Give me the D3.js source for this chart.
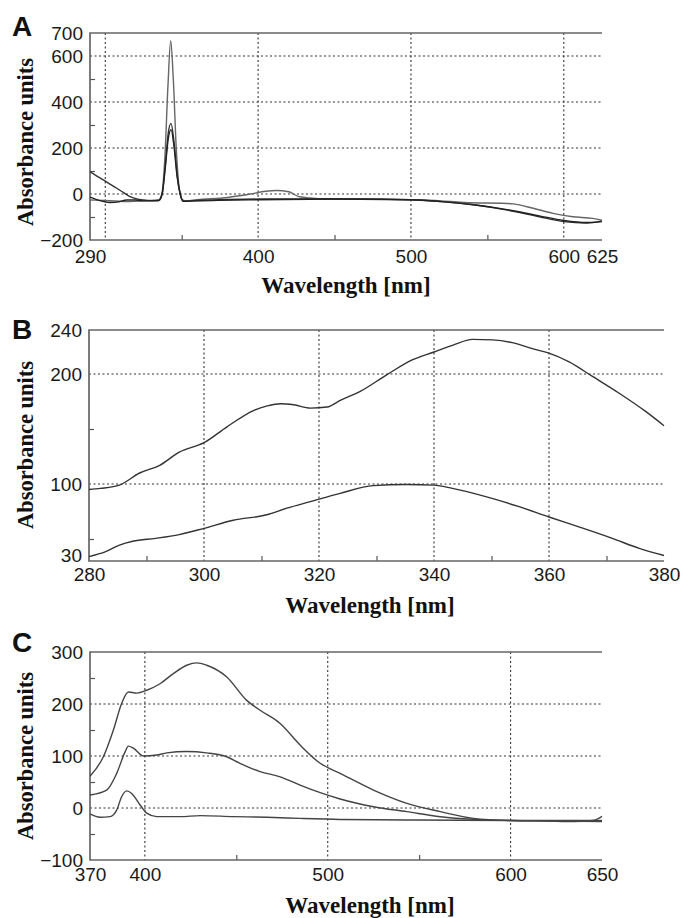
<!DOCTYPE html>
<html><head><meta charset="utf-8">
<script src="https://cdn.jsdelivr.net/npm/d3@7"></script>
<style>
html,body{margin:0;padding:0;background:#fff;}
svg{display:block;}
</style></head>
<body>
<script>
// ---------- DATA ----------
// Panel A
const aXTickLabels = [290, 400, 500, 600, 625];
const aXGrid = [300, 400, 500, 600];
const aXMinor = [350, 450, 550];
const aYTickLabels = [-200, 0, 200, 400, 600, 700];
const aYGrid = [0, 200, 400, 600];
const aYMinor = [-100, 100, 300, 500];
const aS1x = [290,300,316,325,330,335,337,339,341,342.8,344.5,346.5,348.5,350.5,353,360,380,395,405,412,420,427,440,460,480,500,520,540,560,567,580,593,606,619,625];
const aS1y = [-26,-28,-33,-30,-28,-26,0,160,470,666,500,190,20,-25,-30,-25,-15,0,12,15,10,-12,-20,-21,-22,-25,-30,-38,-40,-43,-62,-84,-99,-106,-114];
const aS2x = [290,294,298.7,303,307.5,312,316.2,320,325,330,335,337.2,339.2,341.2,343,345,347,349,351,360,380,400,420,440,460,480,500,520,541,563,584,600,615,625];
const aS2y = [97,80,61,43,25,6,-11,-20,-26,-29,-28,0,120,265,307,225,85,0,-30,-28,-24,-22,-22,-22,-22,-23,-25,-33,-47,-70,-99,-120,-126,-118];
const aS3x = [290,296,303,309,314,320,325,330,335,337.2,339.2,341.2,343,345,347,349,351,360,400,450,500,520,541,563,584,600,615,625];
const aS3y = [-14,-28,-37,-34,-26,-26,-30,-30,-28,0,110,240,280,205,75,0,-32,-30,-25,-22,-25,-33,-47,-68,-95,-115,-124,-120];

// Panel B
const bXTickLabels = [280, 300, 320, 340, 360, 380];
const bXGrid = [300, 320, 340, 360];
const bXMinor = [290, 310, 330, 350, 370];
const bYTickLabels = [30, 100, 200, 240];
const bYGrid = [100, 200];
const bYMinor = [50, 150];
const bS1x = [280,282,285.3,288.8,292.3,295.7,300,304,308.7,311,313.3,315.6,318.5,321.4,323.7,327.1,331.7,336.3,340,343.2,346.7,350.2,353.6,357.1,360,363.5,367.5,372.2,376.8,380];
const bS1y = [95,96,99,110,117,129,137.6,152,167,171,173,172,169,170,176,184,199,213,220,226,231.5,231,228.5,223,219,211,198,182.5,166,153];
const bS2x = [280,282.9,285.3,287.6,291.6,295.7,300,305.1,310.9,314.4,318.5,323.7,329.4,335.2,340,343.2,349,354.8,360,365.2,371,375.7,380];
const bS2y = [34,38.5,44.5,48,50.6,54,59.7,67,72,78,84,91.5,98.5,99.6,99,96,88.5,79.4,70,61,50.6,41.5,35];

// Panel C
const cXTickLabels = [370, 400, 500, 600, 650];
const cXGrid = [400, 500, 600];
const cXMinor = [450, 550];
const cYTickLabels = [-100, 0, 100, 200, 300];
const cYGrid = [0, 100, 200];
const cYMinor = [-50, 50, 150, 250];
const cS1x = [370,377.3,382.8,387.3,391,395.5,401,408.3,415.6,422.9,428.4,433.8,444.8,455.7,463,474,484.9,495.9,506.8,525,543.3,561.6,579.8,600,620,634.4,645,650];
const cS1y = [61,98.5,150,201,223,221,226.5,239,258.5,274.5,279,274.5,252,207,188,162.5,121,86,66.6,34.5,9,-7,-20,-24,-25,-26,-24,-16];
const cS2x = [370,379.1,384.6,389.2,391,393.7,399.2,406.5,412,422.9,433.8,444.8,452,463,474,484.9,495.9,506.8,525,543.3,561.6,579.8,600,625,650];
const cS2y = [25,34.5,66.6,108,119,115,100,102,106,108.6,106,98.5,86,70,60,44,29.4,17.3,2.5,-7,-16.7,-21.8,-24,-25,-26];
const cS3x = [370,375.5,380.9,384.6,387.3,390.1,392.8,397.4,401,406.5,419.3,430.3,448.5,466.8,485,506.8,543,600,650];
const cS3y = [-11.5,-17.8,-16.6,-4,21.7,33,28,5.8,-10,-16.6,-16.6,-14.6,-16.6,-17.8,-20,-22,-23,-24,-24];

const panelLetters = ["A", "B", "C"];
const yTitle = "Absorbance units";
const xTitle = "Wavelength [nm]";

// ---------- DRAW ----------
const svg = d3.select("body").append("svg").attr("width", 683).attr("height", 918);
const fmt = d => String(d).replace("-", "\u2212");
const SANS = "'Liberation Sans', Arial, Helvetica, sans-serif";
const SERIF = "'Liberation Serif', 'Times New Roman', serif";

function zip(xs, ys){ return xs.map((x,i)=>[x, ys[i]]); }

function drawPanel(p){
  const x = d3.scaleLinear().domain(p.xd).range([p.l, p.r]);
  const y = d3.scaleLinear().domain(p.yd).range([p.b, p.t]);
  const g = svg.append("g");

  // grid
  g.append("g").selectAll("line").data(p.xGrid).join("line")
    .attr("x1", d=>x(d)).attr("x2", d=>x(d)).attr("y1", p.t).attr("y2", p.b)
    .attr("stroke", "#333").attr("stroke-width", 1.1).attr("stroke-dasharray", "2,2.5");
  g.append("g").selectAll("line").data(p.yGrid).join("line")
    .attr("y1", d=>y(d)).attr("y2", d=>y(d)).attr("x1", p.l).attr("x2", p.r)
    .attr("stroke", "#333").attr("stroke-width", 1.1).attr("stroke-dasharray", "2,2.5");

  // minor ticks (inward)
  const ax1 = g.append("g").attr("transform", `translate(0,${p.b})`)
    .call(d3.axisBottom(x).tickValues(p.xMinor).tickSize(-5).tickFormat(""));
  const ay1 = g.append("g").attr("transform", `translate(${p.l},0)`)
    .call(d3.axisLeft(y).tickValues(p.yMinor).tickSize(-5).tickFormat(""));
  [ax1, ay1].forEach(a => { a.select(".domain").remove(); a.selectAll("line").attr("stroke", "#555").attr("stroke-width", 1.2); });

  // tick labels via axes
  const axb = g.append("g").attr("transform", `translate(0,${p.b})`)
    .call(d3.axisBottom(x).tickValues(p.xLabels).tickSize(0).tickPadding(p.xPad).tickFormat(fmt));
  const axl = g.append("g").attr("transform", `translate(${p.l},0)`)
    .call(d3.axisLeft(y).tickValues(p.yLabels).tickSize(0).tickPadding(7).tickFormat(fmt));
  [axb, axl].forEach(a => {
    a.select(".domain").remove();
    a.selectAll("text").attr("font-family", SANS).attr("font-size", 19).attr("fill", "#1a1a1a");
  });
  if (p.lowYdy) axl.selectAll("text").filter(d => d === p.yd[0]).attr("dy", p.lowYdy);

  // frame: left, bottom, top
  g.append("path")
    .attr("d", `M${p.r},${p.t}H${p.l}V${p.b}H${p.r}`)
    .attr("fill", "none").attr("stroke", "#666").attr("stroke-width", 1.7);

  // curves
  const line = d3.line().x(d=>x(d[0])).y(d=>y(d[1])).curve(d3.curveMonotoneX);
  p.series.forEach((s, i) => {
    g.append("path").datum(s).attr("d", line)
      .attr("fill", "none").attr("stroke", p.colors[i]).attr("stroke-width", 1.4);
  });

  // panel letter
  svg.append("text").attr("x", 12).attr("y", p.letterY).text(p.letter)
    .attr("font-family", SANS).attr("font-weight", "bold").attr("font-size", 28).attr("fill", "#111");
  // y title
  svg.append("text").attr("transform", `translate(33,${p.yTitleY}) rotate(-90)`)
    .attr("text-anchor", "middle").text(yTitle)
    .attr("font-family", SERIF).attr("font-weight", "bold").attr("font-size", 22.5).attr("fill", "#111");
  // x title
  svg.append("text").attr("x", p.xTitleX).attr("y", p.xTitleY).attr("text-anchor", "middle").text(xTitle)
    .attr("font-family", SERIF).attr("font-weight", "bold").attr("font-size", 23).attr("fill", "#111");
}

drawPanel({
  xd: [290, 625], yd: [-200, 700], l: 90, r: 602, t: 33, b: 240,
  xGrid: aXGrid, yGrid: aYGrid, xMinor: aXMinor, yMinor: aYMinor,
  xLabels: aXTickLabels, yLabels: aYTickLabels, xPad: 10,
  series: [zip(aS1x, aS1y), zip(aS2x, aS2y), zip(aS3x, aS3y)],
  colors: ["#666", "#333", "#222"],
  letter: panelLetters[0], letterY: 36, yTitleY: 142, xTitleX: 346, xTitleY: 293
});
drawPanel({
  xd: [280, 380], yd: [30, 240], l: 89, r: 664, t: 330, b: 561,
  xGrid: bXGrid, yGrid: bYGrid, xMinor: bXMinor, yMinor: bYMinor,
  xLabels: bXTickLabels, yLabels: bYTickLabels, xPad: 7, lowYdy: "0.05em",
  series: [zip(bS1x, bS1y), zip(bS2x, bS2y)],
  colors: ["#333", "#333"],
  letter: panelLetters[1], letterY: 339, yTitleY: 445, xTitleX: 370, xTitleY: 613
});
drawPanel({
  xd: [370, 650], yd: [-100, 300], l: 90, r: 602, t: 652, b: 860,
  xGrid: cXGrid, yGrid: cYGrid, xMinor: cXMinor, yMinor: cYMinor,
  xLabels: cXTickLabels, yLabels: cYTickLabels, xPad: 8,
  series: [zip(cS1x, cS1y), zip(cS2x, cS2y), zip(cS3x, cS3y)],
  colors: ["#444", "#444", "#444"],
  letter: panelLetters[2], letterY: 652, yTitleY: 756, xTitleX: 370, xTitleY: 913
});
</script>
</body></html>
